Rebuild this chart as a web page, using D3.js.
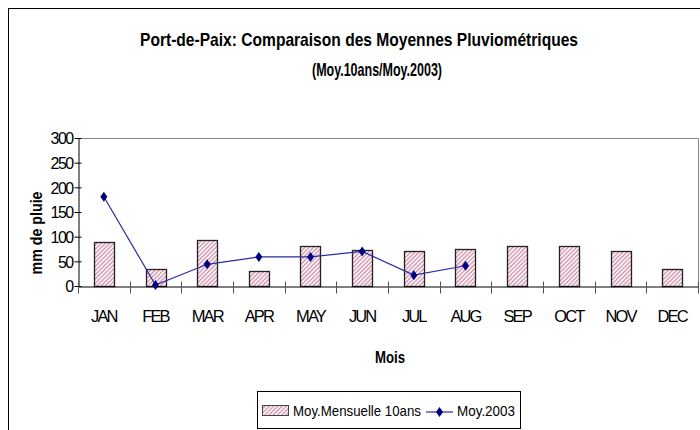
<!DOCTYPE html>
<html>
<head>
<meta charset="utf-8">
<script src="https://cdn.jsdelivr.net/npm/d3@7"></script>
<style>
  body { margin: 0; background: #fff; }
  text { font-family: "Liberation Sans", Arial, sans-serif; }
</style>
</head>
<body>
<div id="chart"></div>
<script>
var width = 700, height = 430;

// data
var months = ["JAN","FEB","MAR","APR","MAY","JUN","JUL","AUG","SEP","OCT","NOV","DEC"];
var moy10ans = [89, 34, 93, 31, 82, 73, 70, 76, 82, 82, 70, 34];
var moy2003 = [181, 2, 44, 59, 59, 70, 22, 41, null, null, null, null];
var yTicks = [0, 50, 100, 150, 200, 250, 300];

var margin = {left: 78, right: 2, top: 138, bottom: 144};

var svg = d3.select("#chart")
  .append("svg")
  .attr("width", width)
  .attr("height", height);

var defs = svg.append("defs");
var pat = defs.append("pattern")
  .attr("id", "hatch")
  .attr("patternUnits", "userSpaceOnUse")
  .attr("width", 3).attr("height", 3)
  .attr("patternTransform", "rotate(45)");
pat.append("rect").attr("width", 3).attr("height", 3).attr("fill", "#fff");
pat.append("rect").attr("width", 1.3).attr("height", 3).attr("fill", "#cf8aa6");

// outer chart border
svg.append("rect")
  .attr("x", 8.5).attr("y", 8.5)
  .attr("width", 720).attr("height", 460)
  .attr("fill", "none").attr("stroke", "#000");

var xb = d3.scaleBand().domain(months).range([margin.left, width - margin.right]);

var y = d3.scaleLinear()
  .domain([0, 300])
  .range([height - margin.bottom, margin.top]);

// plot area top/right gray border
svg.append("path")
  .attr("d", "M" + margin.left + "," + (margin.top + 0.5) + "H" + (width - margin.right + 0.5) + "V" + y(0))
  .attr("fill", "none").attr("stroke", "#888");

// bars
svg.append("g").selectAll("rect")
  .data(moy10ans)
  .enter()
  .append("rect")
  .attr("x", (d, i) => Math.round(xb(months[i]) + xb.bandwidth() / 2 - 10) + 0.5)
  .attr("y", d => Math.round(y(d)) + 0.5)
  .attr("width", 20)
  .attr("height", d => Math.round(y(0)) - Math.round(y(d)))
  .attr("fill", "url(#hatch)")
  .attr("stroke", "#222")
  .attr("stroke-width", 1.3);

// y axis
var yAxis = svg.append("g")
  .attr("transform", "translate(" + (margin.left + 0.5) + ",0)")
  .call(d3.axisLeft(y).tickValues(yTicks).tickSize(0).tickPadding(6));
yAxis.select(".domain").attr("stroke", "#000");
yAxis.selectAll(".tick line").remove();
yAxis.selectAll(".tick").append("line")
  .attr("x1", -4).attr("x2", 3).attr("stroke", "#000");
yAxis.selectAll("text")
  .attr("font-size", 16).attr("fill", "#000").attr("letter-spacing", -1.6)
  .attr("dy", "0.36em");

// x axis
var xAxis = svg.append("g")
  .attr("transform", "translate(0," + (Math.round(y(0)) + 0.5) + ")")
  .call(d3.axisBottom(xb).tickSize(0).tickPadding(0));
xAxis.select(".domain").attr("stroke", "#000");
xAxis.selectAll("text")
  .attr("font-size", 16.5).attr("fill", "#000").attr("letter-spacing", -1.9)
  .attr("y", 35).attr("dy", 0);
xAxis.append("g").selectAll("line")
  .data(months.concat(["end"]))
  .enter()
  .append("line")
  .attr("x1", (d, i) => Math.round(margin.left + i * xb.step()) + 0.5)
  .attr("x2", (d, i) => Math.round(margin.left + i * xb.step()) + 0.5)
  .attr("y1", -5).attr("y2", 7)
  .attr("stroke", "#555");

// line series
var pts = moy2003.map((v, i) => ({m: months[i], v: v})).filter(d => d.v !== null);
var line = d3.line()
  .x(d => xb(d.m) + xb.bandwidth() / 2)
  .y(d => y(d.v));
svg.append("path")
  .datum(pts)
  .attr("d", line)
  .attr("fill", "none")
  .attr("stroke", "#2a2aa8")
  .attr("stroke-width", 1.2);

var diamond = "M0,-5L3.5,0L0,5L-3.5,0Z";
svg.append("g").selectAll("path")
  .data(pts)
  .enter()
  .append("path")
  .attr("d", diamond)
  .attr("transform", d => "translate(" + (xb(d.m) + xb.bandwidth() / 2) + "," + y(d.v) + ")")
  .attr("fill", "#000080");

// titles
svg.append("text")
  .attr("x", 359).attr("y", 46)
  .attr("text-anchor", "middle")
  .attr("font-size", 19).attr("font-weight", "bold")
  .attr("textLength", 438).attr("lengthAdjust", "spacingAndGlyphs")
  .text("Port-de-Paix: Comparaison des Moyennes Pluviométriques");
svg.append("text")
  .attr("x", 377).attr("y", 76)
  .attr("text-anchor", "middle")
  .attr("font-size", 19).attr("font-weight", "bold")
  .attr("textLength", 130).attr("lengthAdjust", "spacingAndGlyphs")
  .text("(Moy.10ans/Moy.2003)");

svg.append("text")
  .attr("transform", "translate(42,233) rotate(-90)")
  .attr("text-anchor", "middle")
  .attr("font-size", 16).attr("font-weight", "bold")
  .attr("textLength", 83).attr("lengthAdjust", "spacingAndGlyphs")
  .text("mm de pluie");

svg.append("text")
  .attr("x", 390).attr("y", 363)
  .attr("text-anchor", "middle")
  .attr("font-size", 16).attr("font-weight", "bold")
  .attr("textLength", 30).attr("lengthAdjust", "spacingAndGlyphs")
  .text("Mois");

// legend
var lg = svg.append("g");
lg.append("rect")
  .attr("x", 257.5).attr("y", 391.5)
  .attr("width", 263).attr("height", 37)
  .attr("fill", "#fff").attr("stroke", "#000");
lg.append("rect")
  .attr("x", 262.5).attr("y", 405.5)
  .attr("width", 26).attr("height", 10)
  .attr("fill", "url(#hatch)").attr("stroke", "#444");
lg.append("text")
  .attr("x", 293).attr("y", 416)
  .attr("font-size", 15)
  .attr("textLength", 128).attr("lengthAdjust", "spacingAndGlyphs")
  .text("Moy.Mensuelle 10ans");
lg.append("line")
  .attr("x1", 426).attr("x2", 453).attr("y1", 412).attr("y2", 412)
  .attr("stroke", "#2a2aa8").attr("stroke-width", 1.2);
lg.append("path")
  .attr("d", diamond)
  .attr("transform", "translate(439.5,412)")
  .attr("fill", "#000080");
lg.append("text")
  .attr("x", 457).attr("y", 416)
  .attr("font-size", 15)
  .attr("textLength", 58).attr("lengthAdjust", "spacingAndGlyphs")
  .text("Moy.2003");
</script>
</body>
</html>
